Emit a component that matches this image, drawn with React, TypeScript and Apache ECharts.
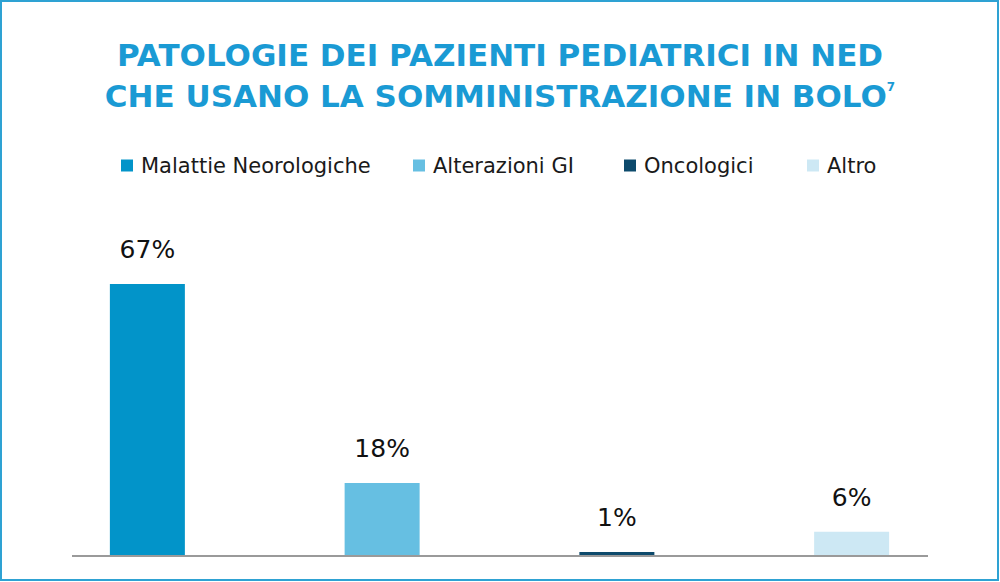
import React, { useEffect, useRef } from "react";
import * as echarts from "echarts";

const categories = ["Malattie Neorologiche", "Alterazioni GI", "Oncologici", "Altro"];
const values = [67, 18, 1, 6];
const colors = ["#0294c9", "#66bfe2", "#0d4a6c", "#cde8f4"];
const titleLine1 = "PATOLOGIE DEI PAZIENTI PEDIATRICI IN NED";
const titleLine2 = "CHE USANO LA SOMMINISTRAZIONE IN BOLO";
const titleRef = "7";
const legendLefts = [121, 413, 624, 807];

export default function App() {
  const ref = useRef<HTMLDivElement>(null);
  useEffect(() => {
    if (!ref.current) return;
    const chart = echarts.init(ref.current, null, { renderer: "svg" });
    const series = categories.map((name, i) => ({
      name,
      type: "bar",
      barWidth: 75,
      barGap: "-100%",
      itemStyle: { color: colors[i] },
      label: {
        show: true,
        position: "top",
        distance: 22,
        formatter: "{c}%",
        fontSize: 25,
        color: "#111",
        fontFamily: "DejaVu Sans",
      },
      data: values.map((v, j) => (j === i ? v : "-")),
    }));
    const titleColor = "#1a9ad4";
    chart.setOption({
      animation: false,
      backgroundColor: "#fff",
      legend: categories.map((c, i) => ({
        data: [c],
        left: legendLefts[i],
        top: 155,
        padding: 0,
        itemWidth: 12,
        itemHeight: 12,
        icon: "rect",
        textStyle: { fontSize: 21, color: "#1a1a1a", fontFamily: "DejaVu Sans", padding: [0, 0, 0, 3] },
      })),
      grid: { left: 30, right: 31, top: 150, bottom: 26 },
      xAxis: {
        type: "category",
        data: categories,
        axisLine: { show: false },
        axisTick: { show: false },
        axisLabel: { show: false },
      },
      yAxis: {
        type: "value",
        min: 0,
        max: 100,
        show: false,
      },
      graphic: [
        {
          type: "text",
          x: 500,
          y: 55,
          style: {
            text: titleLine1,
            fill: titleColor,
            font: "bold 31px 'DejaVu Sans'",
            align: "center",
            verticalAlign: "middle",
          },
        },
        {
          type: "text",
          x: 500,
          y: 96,
          style: {
            text: titleLine2 + "{s|" + titleRef + "}",
            fill: titleColor,
            font: "bold 31px 'DejaVu Sans'",
            align: "center",
            verticalAlign: "middle",
            rich: {
              s: { fontSize: 12, fontWeight: "bold", fontFamily: "DejaVu Sans", fill: titleColor, verticalAlign: "top", lineHeight: 30 },
            },
          },
        },
        {
          type: "line",
          shape: { x1: 72, y1: 556, x2: 928, y2: 556 },
          style: { stroke: "#9a9a9a", lineWidth: 2 },
          z: 10,
        },
        {
          type: "rect",
          shape: { x: 1, y: 1, width: 997, height: 579 },
          style: { fill: "none", stroke: "#2ea2d3", lineWidth: 2 },
        },
      ],
      series,
    });
    return () => chart.dispose();
  }, []);
  return <div ref={ref} style={{ position: "absolute", left: 0, top: 0, width: 1000, height: 582 }} />;
}
